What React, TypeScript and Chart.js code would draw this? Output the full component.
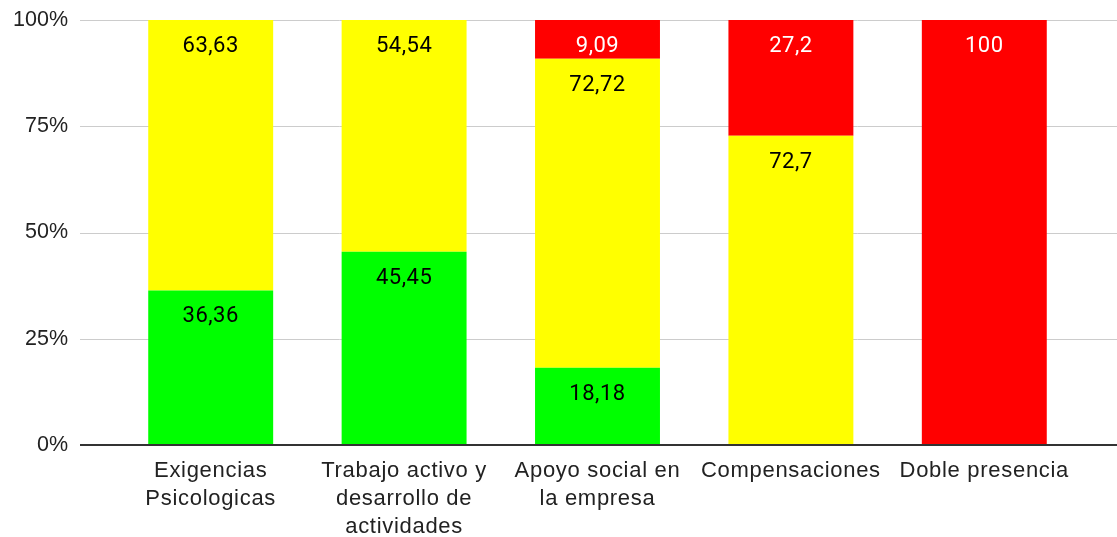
import React, { useEffect, useRef } from "react";
import { Chart, registerables } from "chart.js";

Chart.register(...registerables);

const categories: (string | string[])[] = [
  ["Exigencias", "Psicologicas"],
  ["Trabajo activo y", "desarrollo de", "actividades"],
  ["Apoyo social en", "la empresa"],
  "Compensaciones",
  "Doble presencia",
];
const greenValues = [36.36, 45.45, 18.18, 0, 0];
const yellowValues = [63.63, 54.54, 72.72, 72.7, 0];
const redValues = [0, 0, 9.09, 27.2, 100];
const yTicks = [0, 25, 50, 75, 100];

const seriesRaw = [greenValues, yellowValues, redValues];
const seriesColors = ["#00ff00", "#ffff00", "#ff0000"];
const labelColors = ["#000000", "#000000", "#ffffff"];
const seriesNames = ["Bajo", "Medio", "Alto"];

const totals = categories.map((_, i) => seriesRaw.reduce((s, arr) => s + arr[i], 0));
const pct = (arr: number[]) => arr.map((v, i) => (totals[i] ? (v / totals[i]) * 100 : 0));
const fmt = (v: number) => String(v).replace(".", ",");

const gridPlugin = {
  id: "extGrid",
  beforeDatasetsDraw(chart: any) {
    const ctx = chart.ctx;
    const y = chart.scales.y;
    ctx.save();
    ctx.strokeStyle = "#cccccc";
    ctx.lineWidth = 1;
    yTicks.forEach((t) => {
      if (t === 0) return;
      const py = Math.round(y.getPixelForValue(t)) + 0.5;
      ctx.beginPath();
      ctx.moveTo(80, py);
      ctx.lineTo(chart.width, py);
      ctx.stroke();
    });
    ctx.restore();
  },
  afterDatasetsDraw(chart: any) {
    const ctx = chart.ctx;
    const y = chart.scales.y;
    const x = chart.scales.x;
    ctx.save();
    const by = Math.round(y.getPixelForValue(0));
    ctx.strokeStyle = "#333333";
    ctx.lineWidth = 2;
    ctx.beginPath();
    ctx.moveTo(80, by);
    ctx.lineTo(chart.width, by);
    ctx.stroke();

    // value labels
    ctx.font = "22px Roboto";
    (ctx as any).letterSpacing = "0.5px";
    ctx.textAlign = "center";
    ctx.textBaseline = "alphabetic";
    chart.data.datasets.forEach((ds: any, di: number) => {
      const meta = chart.getDatasetMeta(di);
      meta.data.forEach((bar: any, i: number) => {
        const raw = seriesRaw[di][i];
        if (!raw) return;
        ctx.fillStyle = labelColors[di];
        const top = Math.min(bar.y, bar.base);
        ctx.fillText(fmt(raw), bar.x, top + 32);
      });
    });

    // category labels
    ctx.font = "22px 'Liberation Sans', Arial, sans-serif";
    (ctx as any).letterSpacing = "0.7px";
    ctx.fillStyle = "#222222";
    categories.forEach((c, i) => {
      const lines = Array.isArray(c) ? c : [c];
      const px = x.getPixelForValue(i);
      lines.forEach((ln, k) => {
        ctx.fillText(ln, px, by + 32 + k * 28);
      });
    });
    ctx.restore();
  },
};

export default function App() {
  const ref = useRef<HTMLCanvasElement>(null);
  useEffect(() => {
    if (!ref.current) return;
    const chart = new Chart(ref.current, {
      type: "bar",
      data: {
        labels: categories,
        datasets: seriesRaw.map((arr, i) => ({
          label: seriesNames[i],
          data: pct(arr),
          backgroundColor: seriesColors[i],
          borderWidth: 0,
          categoryPercentage: 1,
          barPercentage: 0.646,
        })),
      },
      options: {
        responsive: false,
        animation: false,
        layout: { padding: { top: 20, right: 36, left: 0, bottom: 0 } },
        plugins: { legend: { display: false }, tooltip: { enabled: false } },
        scales: {
          x: {
            stacked: true,
            grid: { display: false, drawTicks: false },
            border: { display: false },
            ticks: { display: false },
            afterFit: (s: any) => {
              s.height = 92;
              s.paddingLeft = 0;
              s.paddingRight = 0;
            },
          },
          y: {
            stacked: true,
            min: 0,
            max: 100,
            grid: { display: false, drawTicks: false },
            border: { display: false },
            afterBuildTicks: (s: any) => {
              s.ticks = yTicks.map((v) => ({ value: v }));
            },
            ticks: {
              color: "#222222",
              font: { family: "'Liberation Sans', Arial", size: 21.5 },
              padding: 46,
              callback: (v: any) => v + "%",
            },
            afterFit: (s: any) => {
              s.width = 114;
              s.paddingTop = 0;
              s.paddingBottom = 0;
            },
          },
        },
      },
      plugins: [gridPlugin],
    });
    return () => chart.destroy();
  }, []);
  return (
    <div style={{ position: "fixed", left: 0, top: 0, width: 1117, height: 537, background: "#fff" }}>
      <canvas ref={ref} width={1117} height={537} />
    </div>
  );
}
